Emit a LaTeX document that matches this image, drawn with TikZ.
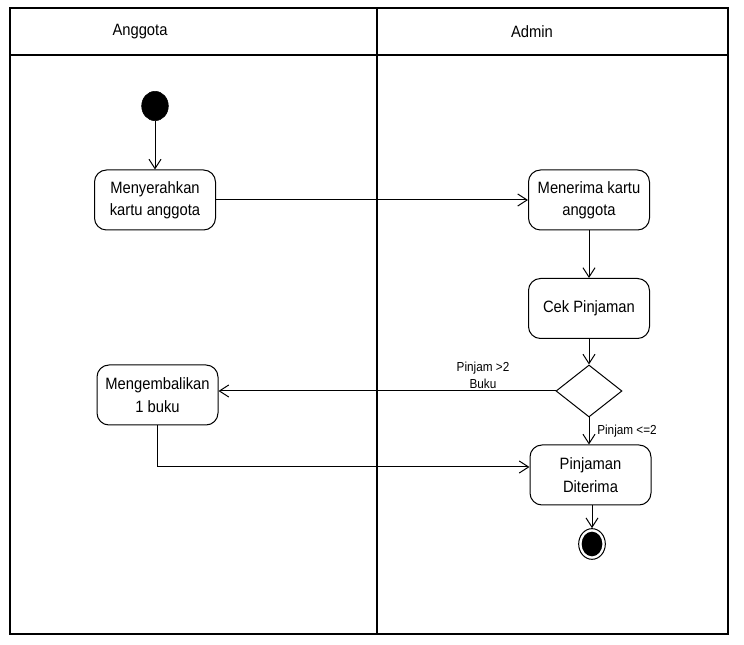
\documentclass[tikz,border=0pt]{standalone}
\usepackage{fontspec}
\setmainfont[FakeStretch=0.9]{Liberation Sans}
\usetikzlibrary{arrows.meta,shapes.geometric}
\begin{document}
\begin{tikzpicture}[x=0.75pt,y=-0.75pt,
  act/.style={draw,rounded corners=9pt,minimum width=90.75pt,minimum height=45pt,align=center,font=\fontsize{12.3}{16.8}\selectfont,line width=0.75pt,inner sep=1pt},
  flow/.style={draw,line width=0.75pt,-{Straight Barb[length=7pt,width=9pt]}},
  lane/.style={line width=0.9pt},
  lbl/.style={font=\fontsize{9.8}{12.5}\selectfont,align=center,inner sep=0pt},
  hdr/.style={font=\fontsize{12.3}{15}\selectfont}]
\useasboundingbox (0,0) rectangle (744,645);
% swimlanes
\draw[lane] (10,8) rectangle (728,634);
\draw[lane] (10,55) -- (728,55);
\draw[lane] (377,8) -- (377,634);
\node[hdr] (h1) at (140,32) {Anggota};
\node[hdr] (h2) at (532,32) {Admin};
% nodes
\node[draw,fill=black,ellipse,minimum width=20pt,minimum height=22pt,inner sep=0pt] (start) at (155,106) {};
\node[act] (a1) at (155,200) {Menyerahkan\\kartu anggota};
\node[act] (a2) at (589,200) {Menerima kartu\\anggota};
\node[act] (a3) at (589,308.5) {Cek Pinjaman};
\node[draw,diamond,aspect=1.27,minimum width=49.5pt,minimum height=39pt,inner sep=0pt,line width=0.75pt] (d) at (589,391) {};
\node[act] (a4) at (157.5,395) {Mengembalikan\\1 buku};
\node[act] (a5) at (590.5,475) {Pinjaman\\Diterima};
\node[draw,ellipse,minimum width=20pt,minimum height=23pt,inner sep=0pt,line width=0.75pt] (end) at (592,544) {};
\node[ellipse,fill=black,minimum width=15.5pt,minimum height=18.5pt,inner sep=0pt] (endin) at (end) {};
% edges
\draw[flow] (start) -- (a1);
\draw[flow] (a1) -- (a2);
\draw[flow] (a2) -- (a3);
\draw[flow] (a3) -- (d);
\draw[flow] (d.west) -- (a4.east |- d.west);
\draw[flow] (d.south) -- (d.south |- a5.north);
\coordinate (c1) at (a4.south |- 0,467);
\draw[flow] (a4.south) -- (c1) -- (a5.west |- c1);
\draw[flow] (a5.south -| end) -- (end.north);
% labels
\node[lbl] (l1) at (483,375) {Pinjam >2\\Buku};
\node[lbl,anchor=west] (l2) at (597,431) {Pinjam <=2};
\end{tikzpicture}
\end{document}
